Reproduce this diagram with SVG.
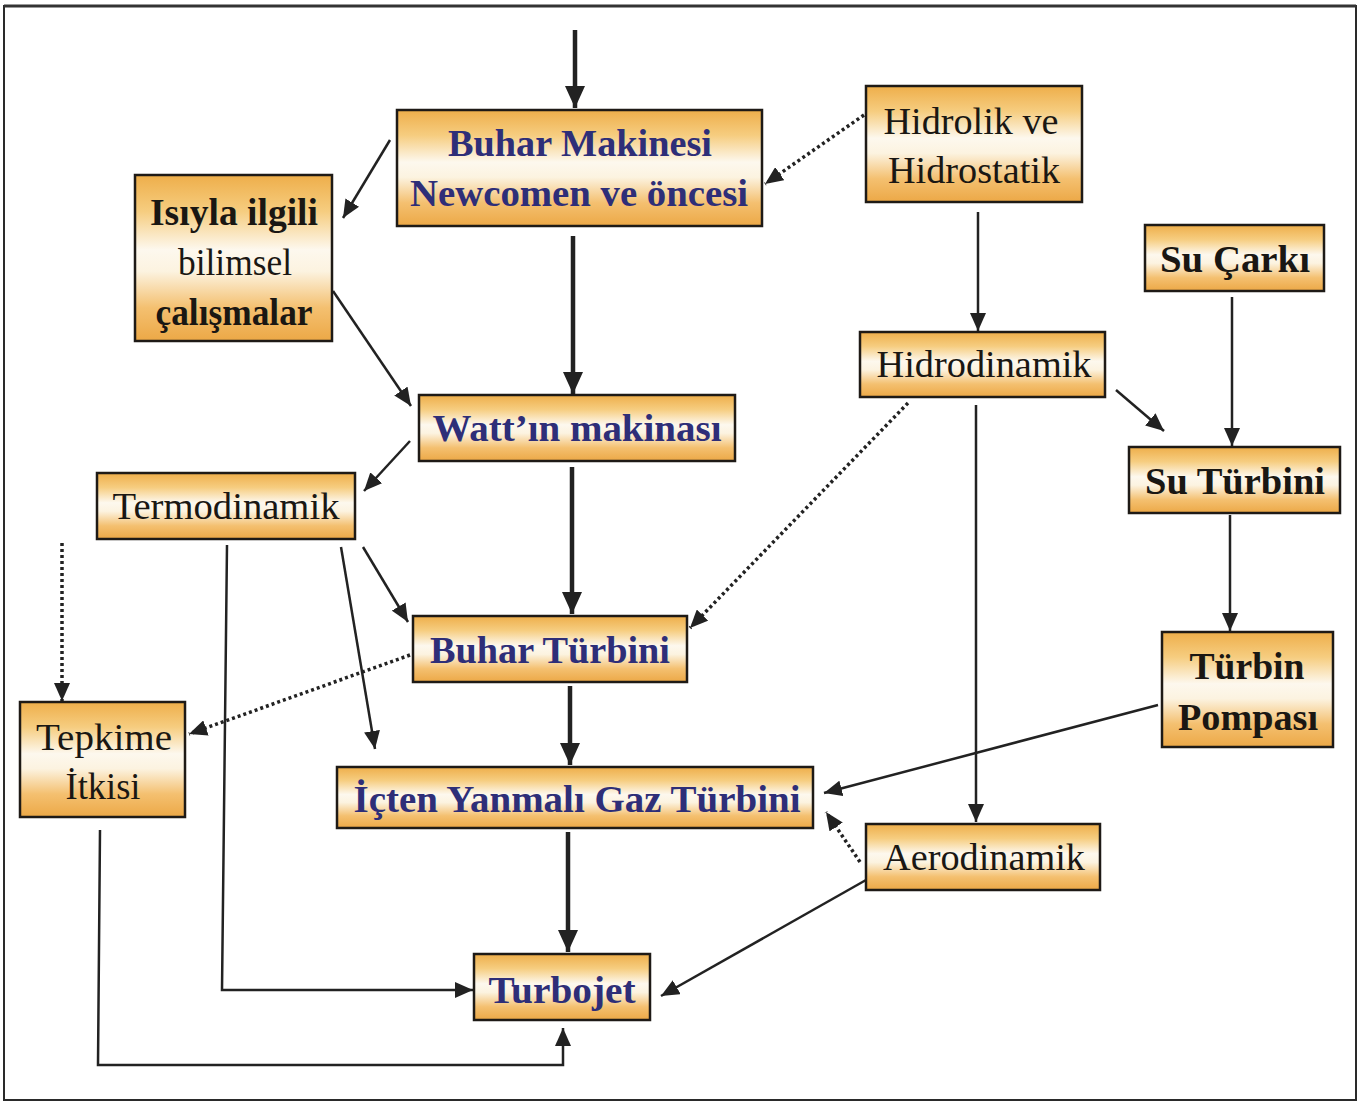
<svg xmlns="http://www.w3.org/2000/svg" width="1363" height="1104" viewBox="0 0 1363 1104">
<style>
.box{fill:url(#g);stroke:#1e1a16;stroke-width:2.5}
.t{font-family:"Liberation Serif","Times New Roman",serif;font-size:37px;text-anchor:middle;dominant-baseline:central}
.blue{fill:#2e2e78;font-weight:bold}
.blk{fill:#1a1713}
.bb{fill:#1a1713;font-weight:bold}
.thick{stroke:#222;stroke-width:4.5;fill:none;marker-end:url(#ahB)}
.thin{stroke:#222;stroke-width:2.5;fill:none;marker-end:url(#ahS)}
.dot{stroke:#222;stroke-width:3.5;stroke-dasharray:3 3;fill:none;marker-end:url(#ahS)}
</style>
<defs>
<linearGradient id="g" x1="0" y1="0" x2="0" y2="1">
<stop offset="0" stop-color="#eeae4a"/>
<stop offset="0.22" stop-color="#f6cd80"/>
<stop offset="0.45" stop-color="#fdf8ee"/>
<stop offset="0.58" stop-color="#fcf3e0"/>
<stop offset="0.8" stop-color="#f4c070"/>
<stop offset="1" stop-color="#eca846"/>
</linearGradient>
<marker id="ahB" markerWidth="22" markerHeight="20" refX="22" refY="10" orient="auto" markerUnits="userSpaceOnUse" viewBox="0 0 22 20">
<path d="M0,0 L22,10 L0,20 Z" fill="#222"/>
</marker>
<marker id="ahS" markerWidth="18" markerHeight="16" refX="18" refY="8" orient="auto" markerUnits="userSpaceOnUse" viewBox="0 0 18 16">
<path d="M0,0 L18,8 L0,16 Z" fill="#222"/>
</marker>
</defs>
<rect x="0" y="0" width="1363" height="1104" fill="#fff"/>
<rect x="4" y="6" width="1352" height="1094" fill="none" stroke="#2a2a2a" stroke-width="2"/>
<line x1="4" y1="6" x2="1356" y2="6" stroke="#333" stroke-width="3"/>

<g id="connectors">
<line class="thick" x1="575" y1="30" x2="575" y2="108"/>
<line class="thin" x1="390" y1="140" x2="343" y2="218"/>
<line class="dot" x1="864" y1="115" x2="765" y2="184"/>
<line class="thick" x1="573" y1="236" x2="573" y2="394"/>
<line class="thin" x1="333" y1="291" x2="411" y2="406"/>
<line class="thin" x1="978" y1="212" x2="978" y2="331"/>
<line class="thin" x1="1232" y1="297" x2="1232" y2="446"/>
<line class="thin" x1="1116" y1="390" x2="1164" y2="431"/>
<line class="dot" x1="908" y1="403" x2="690" y2="628"/>
<line class="thin" x1="976" y1="405" x2="976" y2="822"/>
<line class="thin" x1="410" y1="441" x2="364" y2="491"/>
<line class="thick" x1="572" y1="467" x2="572" y2="614"/>
<line class="thin" x1="1230" y1="515" x2="1230" y2="631"/>
<line class="dot" x1="62" y1="543" x2="62" y2="701"/>
<polyline class="thin" points="227,545 222,990 473,990"/>
<line class="thin" x1="363" y1="547" x2="408" y2="622"/>
<line class="thin" x1="341" y1="547" x2="375" y2="749"/>
<line class="dot" x1="410" y1="655" x2="189" y2="734"/>
<line class="thick" x1="570" y1="686" x2="570" y2="765"/>
<line class="thin" x1="1158" y1="705" x2="824" y2="793"/>
<line class="dot" x1="860" y1="862" x2="826" y2="812"/>
<line class="thick" x1="568" y1="832" x2="568" y2="952"/>
<line class="thin" x1="866" y1="880" x2="661" y2="996"/>
<polyline class="thin" points="100,830 98,1065 563,1065 563,1028"/>
</g>

<g id="n-buhar-makinesi"><rect class="box" x="397" y="110" width="365" height="116"/>
<text class="t blue" x="580" y="143" textLength="264" lengthAdjust="spacingAndGlyphs">Buhar Makinesi</text>
<text class="t blue" x="579" y="193" textLength="338" lengthAdjust="spacingAndGlyphs">Newcomen ve öncesi</text></g>

<g id="n-hidrolik"><rect class="box" x="866" y="86" width="216" height="116"/>
<text class="t blk" x="971" y="121" textLength="175" lengthAdjust="spacingAndGlyphs">Hidrolik ve</text>
<text class="t blk" x="974" y="170" textLength="172" lengthAdjust="spacingAndGlyphs">Hidrostatik</text></g>

<g id="n-isiyla"><rect class="box" x="135" y="175" width="197" height="166"/>
<text class="t bb" x="234" y="212" textLength="168" lengthAdjust="spacingAndGlyphs">Isıyla ilgili</text>
<text class="t blk" x="235" y="262" textLength="114" lengthAdjust="spacingAndGlyphs">bilimsel</text>
<text class="t bb" x="234" y="312" textLength="157" lengthAdjust="spacingAndGlyphs">çalışmalar</text></g>

<g id="n-su-carki"><rect class="box" x="1145" y="225" width="179" height="66"/>
<text class="t bb" x="1235" y="259" textLength="150" lengthAdjust="spacingAndGlyphs">Su Çarkı</text></g>

<g id="n-hidrodinamik"><rect class="box" x="860" y="332" width="245" height="65"/>
<text class="t blk" x="984" y="364" textLength="215" lengthAdjust="spacingAndGlyphs">Hidrodinamik</text></g>

<g id="n-watt"><rect class="box" x="419" y="395" width="316" height="66"/>
<text class="t blue" x="577" y="428" textLength="289" lengthAdjust="spacingAndGlyphs">Watt’ın makinası</text></g>

<g id="n-su-turbini"><rect class="box" x="1129" y="447" width="211" height="66"/>
<text class="t bb" x="1235" y="481" textLength="180" lengthAdjust="spacingAndGlyphs">Su Türbini</text></g>

<g id="n-termodinamik"><rect class="box" x="97" y="473" width="258" height="66"/>
<text class="t blk" x="226" y="506" textLength="227" lengthAdjust="spacingAndGlyphs">Termodinamik</text></g>

<g id="n-buhar-turbini"><rect class="box" x="413" y="616" width="274" height="66"/>
<text class="t blue" x="550" y="650" textLength="240" lengthAdjust="spacingAndGlyphs">Buhar Türbini</text></g>

<g id="n-turbin-pompasi"><rect class="box" x="1162" y="632" width="171" height="115"/>
<text class="t bb" x="1247" y="666" textLength="115" lengthAdjust="spacingAndGlyphs">Türbin</text>
<text class="t bb" x="1248" y="717" textLength="140" lengthAdjust="spacingAndGlyphs">Pompası</text></g>

<g id="n-tepkime"><rect class="box" x="20" y="702" width="165" height="115"/>
<text class="t blk" x="104" y="737" textLength="136" lengthAdjust="spacingAndGlyphs">Tepkime</text>
<text class="t blk" x="103" y="786" textLength="75" lengthAdjust="spacingAndGlyphs">İtkisi</text></g>

<g id="n-icten"><rect class="box" x="337" y="767" width="476" height="61"/>
<text class="t blue" x="577" y="799" textLength="447" lengthAdjust="spacingAndGlyphs">İçten Yanmalı Gaz Türbini</text></g>

<g id="n-aerodinamik"><rect class="box" x="866" y="824" width="234" height="66"/>
<text class="t blk" x="984" y="857" textLength="202" lengthAdjust="spacingAndGlyphs">Aerodinamik</text></g>

<g id="n-turbojet"><rect class="box" x="474" y="954" width="176" height="66"/>
<text class="t blue" x="562" y="990" textLength="147" lengthAdjust="spacingAndGlyphs">Turbojet</text></g>
</svg>
